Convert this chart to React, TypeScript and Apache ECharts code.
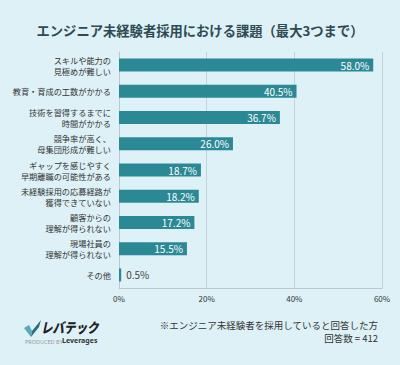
import React, { useEffect, useRef } from "react";
import * as echarts from "echarts";

const categories = [
  "スキルや能力の\n見極めが難しい",
  "教育・育成の工数がかかる",
  "技術を習得するまでに\n時間がかかる",
  "競争率が高く、\n母集団形成が難しい",
  "ギャップを感じやすく\n早期離職の可能性がある",
  "未経験採用の応募経路が\n獲得できていない",
  "顧客からの\n理解が得られない",
  "現場社員の\n理解が得られない",
  "その他",
];
const values = [58.0, 40.5, 36.7, 26.0, 18.7, 18.2, 17.2, 15.5, 0.5];
const xTicks = { min: 0, max: 60, interval: 20 };
const title = "エンジニア未経験者採用における課題（最大3つまで）";
const note1 = "※エンジニア未経験者を採用していると回答した方";
const note2 = "回答数 = 412";

export default function App() {
  const ref = useRef<HTMLDivElement>(null);
  useEffect(() => {
    document.body.style.margin = "0";
    const chart = echarts.init(ref.current!, null, { renderer: "svg" });
    const font = "'Noto Sans CJK JP', 'Noto Sans', sans-serif";
    chart.setOption({
      animation: false,
      backgroundColor: "#ddf1f6",
      textStyle: { fontFamily: font },
      title: {
        text: title,
        left: "center",
        top: 19,
        textStyle: { fontSize: 13.3, fontWeight: "bold", color: "#2e4a52", fontFamily: font },
      },
      grid: { left: 119, right: 18, top: 52, bottom: 77, containLabel: false, outerBoundsMode: "none" },
      xAxis: {
        type: "value",
        min: xTicks.min,
        max: xTicks.max,
        interval: xTicks.interval,
        axisLabel: { formatter: "{value}%", fontSize: 8, color: "#333", margin: 6 },
        axisLine: { show: true, lineStyle: { color: "#b8c8cd" } },
        axisTick: { show: false },
        splitLine: { show: true, lineStyle: { color: "#c3d3d8" } },
      },
      yAxis: {
        type: "category",
        inverse: true,
        data: categories,
        axisLabel: { fontSize: 8.2, color: "#333", lineHeight: 11, margin: 8 },
        axisLine: { show: true, lineStyle: { color: "#b8c8cd" } },
        axisTick: { show: false },
      },
      series: [
        {
          type: "bar",
          barWidth: 13,
          itemStyle: { color: "#2b8996" },
          data: values.map((v) => ({
            value: v,
            label:
              v < 5
                ? { show: true, position: "right", color: "#444", fontSize: 10, distance: 5 }
                : { show: true, position: "insideRight", color: "#fff", fontSize: 10, distance: 4 },
          })),
          label: { formatter: (p: any) => p.value.toFixed(1) + "%" },
        },
      ],
      graphic: [
        {
          type: "polygon",
          shape: { points: [[24, 328], [29, 325], [32, 331], [31, 337]] },
          style: { fill: "#5aa9b8" },
        },
        {
          type: "polygon",
          shape: { points: [[31, 337], [32, 331], [41, 320], [39, 327]] },
          style: { fill: "#2a6f7d" },
        },
        {
          type: "text",
          x: 41,
          y: 320,
          scaleX: 0.82,
          style: {
            text: "レバテック",
            fill: "#1e1e1e",
            font: "italic 900 14px " + font,
          },
        },
        {
          type: "text",
          x: 25,
          y: 338.5,
          style: { text: "PRODUCED BY", fontSize: 5.5, fill: "#999", fontFamily: "'Noto Sans', sans-serif" },
        },
        {
          type: "text",
          x: 62,
          y: 337,
          style: { text: "Leverages", fontSize: 7, fontWeight: "bold", fill: "#333", fontFamily: "'Noto Sans', sans-serif" },
        },
        {
          type: "text",
          right: 22,
          top: 319,
          style: {
            text: note1 + "\n" + note2,
            fontSize: 9.5,
            lineHeight: 12.5,
            fill: "#333",
            textAlign: "right",
            fontFamily: font,
          },
        },
      ],
    });
    return () => chart.dispose();
  }, []);
  return <div ref={ref} style={{ width: 400, height: 365 }} />;
}
